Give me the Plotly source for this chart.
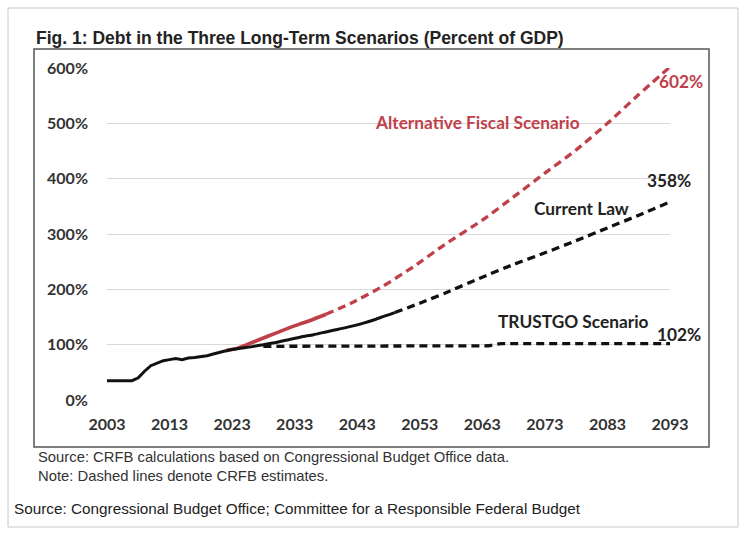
import plotly.graph_objects as go

# ---------------- data ----------------
hist_years = [2003, 2004, 2005, 2006, 2007, 2008, 2009, 2010, 2011, 2012, 2013,
              2014, 2015, 2016, 2017, 2018, 2019, 2020, 2021, 2022]
hist_debt = [35, 35, 35, 35, 35, 40, 52, 62, 67, 71, 73,
             75, 73, 76, 77, 78, 80, 83, 86, 89]

cl_solid_years = [2022, 2024, 2026, 2028, 2030, 2032, 2034, 2036, 2038, 2040,
                  2042, 2044, 2046, 2048, 2049]
cl_solid_debt = [89, 93, 96, 100, 104, 109, 114, 118, 123, 128,
                 133, 139, 146, 154, 158]

cl_dash_years = [2049, 2053, 2057, 2063, 2068, 2073, 2078, 2083, 2088, 2093]
cl_dash_debt = [158, 175, 193, 222, 245, 266, 288, 311, 334, 358]

afs_solid_years = [2022, 2024, 2026, 2028, 2030, 2032, 2034, 2036, 2038]
afs_solid_debt = [89, 94, 103, 112, 121, 130, 138, 146, 155]

afs_dash_years = [2038, 2042, 2047, 2052, 2057, 2063, 2068, 2073, 2078, 2083, 2088, 2093]
afs_dash_debt = [155, 175, 205, 241, 281, 325, 367, 410, 452, 500, 552, 602]

trust_years = [2028, 2035, 2045, 2055, 2064, 2066, 2075, 2085, 2093]
trust_debt = [97, 97, 97, 97, 98, 102, 102, 102, 102]

x_ticks = [2003, 2013, 2023, 2033, 2043, 2053, 2063, 2073, 2083, 2093]
y_ticks = [0, 100, 200, 300, 400, 500, 600]

title_text = "Fig. 1: Debt in the Three Long-Term Scenarios (Percent of GDP)"
note1 = "Source: CRFB calculations based on Congressional Budget Office data."
note2 = "Note: Dashed lines denote CRFB estimates."
source_text = "Source: Congressional Budget Office; Committee for a Responsible Federal Budget"

# ---------------- styling ----------------
W, H = 746, 536
L, R, T, B = 107, 76, 68, 136
PW, PH = W - L - R, H - T - B


def px(x):
    return (x - L) / PW


def py(y):
    return (H - B - y) / PH


RED = "#c0404a"
BLACK = "#111111"
DASH = "8px,5px"
LBL_FONT = "Lato, Calibri, Carlito, sans-serif"

fig = go.Figure()

fig.add_trace(go.Scatter(x=trust_years, y=trust_debt, mode="lines",
                         line=dict(color=BLACK, width=3.3, dash=DASH)))
fig.add_trace(go.Scatter(x=afs_solid_years, y=afs_solid_debt, mode="lines",
                         line=dict(color=RED, width=3.6, shape="spline", smoothing=0.5)))
fig.add_trace(go.Scatter(x=afs_dash_years, y=afs_dash_debt, mode="lines",
                         line=dict(color=RED, width=3.3, dash=DASH, shape="spline", smoothing=0.6)))
fig.add_trace(go.Scatter(x=cl_dash_years, y=cl_dash_debt, mode="lines",
                         line=dict(color=BLACK, width=3.3, dash=DASH, shape="spline", smoothing=0.6)))
fig.add_trace(go.Scatter(x=cl_solid_years, y=cl_solid_debt, mode="lines",
                         line=dict(color=BLACK, width=3, shape="spline", smoothing=0.5)))
fig.add_trace(go.Scatter(x=hist_years, y=hist_debt, mode="lines",
                         line=dict(color=BLACK, width=3)))

annots = []
# title
annots.append(dict(x=px(34), y=py(38), xref="paper", yref="paper", xanchor="left",
                   yanchor="middle", showarrow=False, text="<b>" + title_text + "</b>",
                   font=dict(family="Liberation Sans Narrow, Arial Narrow, Liberation Sans, Arial",
                             size=17.5, color="#222222")))
annots.append(dict(x=px(36), y=py(457), xref="paper", yref="paper", xanchor="left",
                   yanchor="middle", showarrow=False, text=note1,
                   font=dict(family="Liberation Sans, Arial", size=14.8, color="#333333")))
annots.append(dict(x=px(36), y=py(476), xref="paper", yref="paper", xanchor="left",
                   yanchor="middle", showarrow=False, text=note2,
                   font=dict(family="Liberation Sans, Arial", size=14.8, color="#333333")))
annots.append(dict(x=px(12), y=py(508), xref="paper", yref="paper", xanchor="left",
                   yanchor="middle", showarrow=False, text=source_text,
                   font=dict(family="Liberation Sans, Arial", size=15.3, color="#222222")))

# in-chart labels (pixel positions -> paper coordinates)
labels = [
    ("Alternative Fiscal Scenario", 477.5, 123, RED),
    ("602%", 681, 82, RED),
    ("358%", 669, 180, "#222222"),
    ("Current Law", 581, 208, "#222222"),
    ("TRUSTGO Scenario", 573, 321, "#222222"),
    ("102%", 679, 334, "#222222"),
]
for txt, lx, ly, col in labels:
    annots.append(dict(x=px(lx), y=py(ly), xref="paper", yref="paper", xanchor="center",
                       yanchor="middle", showarrow=False, text="<b>" + txt + "</b>",
                       font=dict(family=LBL_FONT, size=17.3, color=col)))

shapes = [
    dict(type="rect", xref="paper", yref="paper", x0=px(8), x1=px(738), y0=py(527), y1=py(8),
         line=dict(color="#c8c8c8", width=1), fillcolor="rgba(0,0,0,0)", layer="below"),
    dict(type="rect", xref="paper", yref="paper", x0=px(34), x1=px(709), y0=py(447), y1=py(49),
         line=dict(color="#555555", width=1.5), fillcolor="rgba(0,0,0,0)", layer="below"),
]

fig.update_layout(
    width=W, height=H,
    margin=dict(l=L, r=R, t=T, b=B, pad=0),
    paper_bgcolor="white", plot_bgcolor="white",
    showlegend=False,
    annotations=annots,
    shapes=shapes,
    xaxis=dict(range=[2003, 2093], tickvals=x_ticks, ticktext=[str(v) for v in x_ticks],
               showgrid=False, zeroline=False, showline=False, ticks="",
               ticklabelstandoff=13,
               tickfont=dict(family=LBL_FONT, size=16, color="#333333", weight="bold")),
    yaxis=dict(range=[0, 600], tickvals=y_ticks, ticktext=[f"{v}%" for v in y_ticks],
               showgrid=True, gridcolor="#d9d9d9", gridwidth=1, zeroline=False,
               showline=False, ticks="", ticklabelstandoff=18,
               tickfont=dict(family=LBL_FONT, size=16, color="#333333", weight="bold")),
)

fig.write_html("out.html", config={"displayModeBar": False},
               post_script="document.body.style.margin='0';")
